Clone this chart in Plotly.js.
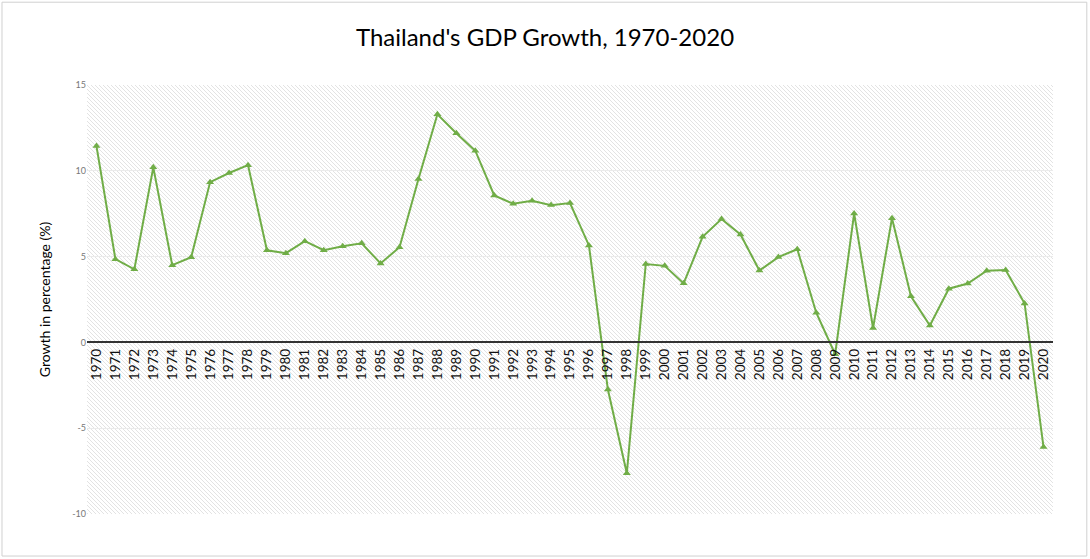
<!DOCTYPE html>
<html>
<head>
<meta charset="utf-8">
<script src="https://cdn.plot.ly/plotly-3.0.1.min.js"></script>
<style>html,body{margin:0;padding:0;background:#fff;}#chart{width:1090px;height:559px;}</style>
</head>
<body>
<div id="chart"></div>
<script>
const years = ["1970","1971","1972","1973","1974","1975","1976","1977","1978","1979","1980","1981","1982","1983","1984","1985","1986","1987","1988","1989","1990","1991","1992","1993","1994","1995","1996","1997","1998","1999","2000","2001","2002","2003","2004","2005","2006","2007","2008","2009","2010","2011","2012","2013","2014","2015","2016","2017","2018","2019","2020"];
const growth = [11.44,4.85,4.26,10.2,4.5,4.96,9.34,9.87,10.33,5.37,5.2,5.9,5.37,5.6,5.78,4.6,5.55,9.52,13.29,12.19,11.17,8.56,8.08,8.25,8.0,8.12,5.65,-2.75,-7.63,4.57,4.46,3.44,6.15,7.19,6.29,4.19,4.97,5.43,1.73,-0.69,7.51,0.84,7.24,2.69,0.98,3.13,3.43,4.18,4.22,2.27,-6.1];
const yTicks = [-10,-5,0,5,10,15];

const W = 966, H = 429;
const svg = `<svg xmlns="http://www.w3.org/2000/svg" width="${W}" height="${H}"><defs><pattern id="p" patternUnits="userSpaceOnUse" width="4" height="4"><rect width="4" height="4" fill="#ffffff"/><path d="M-1,-1 L5,5 M-1,3 L1,5 M3,-1 L5,1" stroke="#e3e3e3" stroke-width="1"/></pattern></defs><rect width="${W}" height="${H}" fill="url(#p)"/></svg>`;
const src = "data:image/svg+xml;charset=utf-8," + encodeURIComponent(svg);

const trace = {
  x: years, y: growth, type: 'scatter', mode: 'lines+markers',
  line: {color: '#70AD47', width: 2},
  marker: {symbol: 'triangle-up', size: 7, color: '#70AD47'},
  hoverinfo: 'x+y'
};

const layout = {
  width: 1090, height: 559,
  margin: {l: 87, r: 37, t: 85, b: 45},
  paper_bgcolor: '#ffffff',
  plot_bgcolor: 'rgba(0,0,0,0)',
  showlegend: false,
  title: {text: "Thailand's GDP Growth, 1970-2020", x: 0.5, xanchor: 'center', y: 0.932, yanchor: 'middle',
          font: {family: 'Lato, "Open Sans", sans-serif', size: 24, color: '#000'}},
  xaxis: {
    type: 'category', range: [-0.5, 50.5],
    anchor: 'free', position: 0.4,
    showline: true, linecolor: '#333333', linewidth: 2,
    showgrid: false, zeroline: false,
    tickangle: -90, ticks: '', ticklen: 0,
    tickfont: {family: 'Lato, "Open Sans", sans-serif', size: 13.5, color: '#111'}
  },
  yaxis: {
    range: [-10, 15], tickvals: yTicks, ticktext: yTicks.map(String),
    showgrid: true, gridcolor: '#ebebeb', gridwidth: 1,
    zeroline: false, showline: false, ticks: '',
    tickfont: {family: 'Lato, "Open Sans", sans-serif', size: 9, color: '#777'},
    title: {text: 'Growth in percentage (%)', standoff: 18,
            font: {family: 'Lato, "Open Sans", sans-serif', size: 14, color: '#000'}}
  },
  images: [{source: src, xref: 'paper', yref: 'paper', x: 0, y: 1, sizex: 1, sizey: 1,
            sizing: 'stretch', xanchor: 'left', yanchor: 'top', layer: 'below'}],
  shapes: [{type: 'rect', xref: 'paper', yref: 'paper',
            x0: -0.088, x1: 1.035, y0: -0.098, y1: 1.193,
            line: {color: '#d0d0d0', width: 1}, fillcolor: 'rgba(0,0,0,0)', layer: 'below'}]
};

Plotly.newPlot('chart', [trace], layout, {displayModeBar: false, staticPlot: true});
</script>
</body>
</html>
